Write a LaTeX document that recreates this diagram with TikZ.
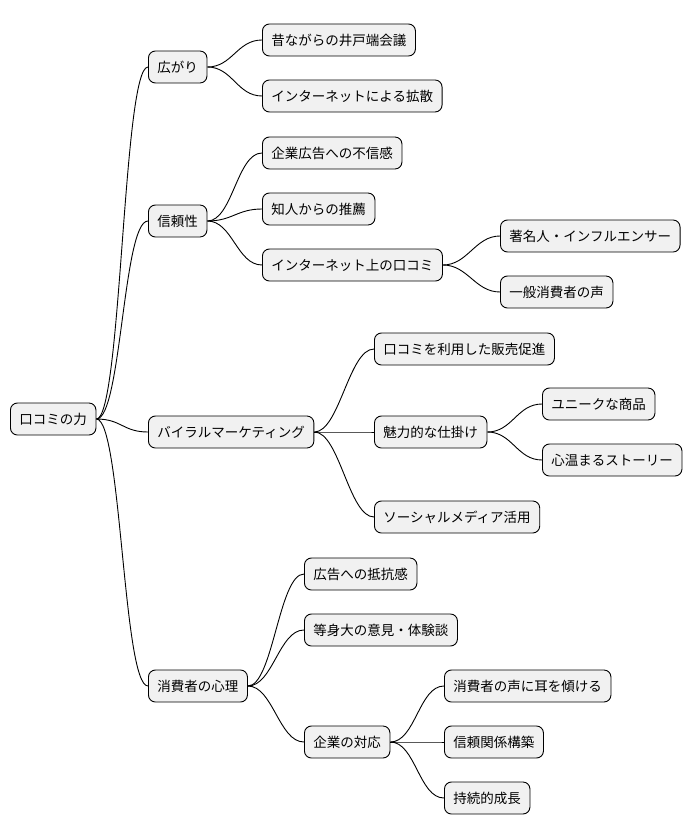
\documentclass[tikz,border=0pt]{standalone}
\usepackage{fontspec}
\setmainfont{Noto Sans CJK JP}
\usetikzlibrary{positioning}
\definecolor{boxfill}{HTML}{F1F1F1}
\begin{document}
\begin{tikzpicture}[
  x=1pt, y=-1pt,
  box/.style={draw, rounded corners=7pt, fill=boxfill, anchor=west,
              inner xsep=9pt, minimum height=32pt, font=\fontsize{13.5}{16}\selectfont, line width=0.9pt},
  link/.style={line width=0.9pt}
]
  \useasboundingbox (0,0) rectangle (698,837);

  \node[box] (root) at (10,419) {口コミの力};

  \node[box] (spread) at (148,67) {広がり};
  \node[box] (old) at (262,40) {昔ながらの井戸端会議};
  \node[box] (net) at (262,96) {インターネットによる拡散};

  \node[box] (trust) at (148,221) {信頼性};
  \node[box] (distrust) at (262,153) {企業広告への不信感};
  \node[box] (friend) at (262,209) {知人からの推薦};
  \node[box] (review) at (262,265) {インターネット上の口コミ};
  \node[box] (celeb) at (500,236) {著名人・インフルエンサー};
  \node[box] (voice) at (500,292) {一般消費者の声};

  \node[box] (viral) at (148,432) {バイラルマーケティング};
  \node[box] (promo) at (374,349) {口コミを利用した販売促進};
  \node[box] (hook) at (374,432) {魅力的な仕掛け};
  \node[box] (unique) at (542,404) {ユニークな商品};
  \node[box] (story) at (542,460) {心温まるストーリー};
  \node[box] (social) at (374,517) {ソーシャルメディア活用};

  \node[box] (mind) at (148,686) {消費者の心理};
  \node[box] (resist) at (304,574) {広告への抵抗感};
  \node[box] (honest) at (304,630) {等身大の意見・体験談};
  \node[box] (corp) at (304,742) {企業の対応};
  \node[box] (listen) at (444,686) {消費者の声に耳を傾ける};
  \node[box] (bond) at (444,742) {信頼関係構築};
  \node[box] (growth) at (444,798) {持続的成長};

  % connectors
  \foreach \p/\c in {root/spread, root/trust, root/viral, root/mind,
                     spread/old, spread/net,
                     trust/distrust, trust/friend, trust/review,
                     review/celeb, review/voice,
                     viral/promo, viral/hook, viral/social,
                     hook/unique, hook/story,
                     mind/resist, mind/honest, mind/corp,
                     corp/listen, corp/bond, corp/growth}
    \draw[link] (\p.east) .. controls ([xshift=25pt]\p.east) and ([xshift=-25pt]\c.west) .. (\c.west);
\end{tikzpicture}
\end{document}
